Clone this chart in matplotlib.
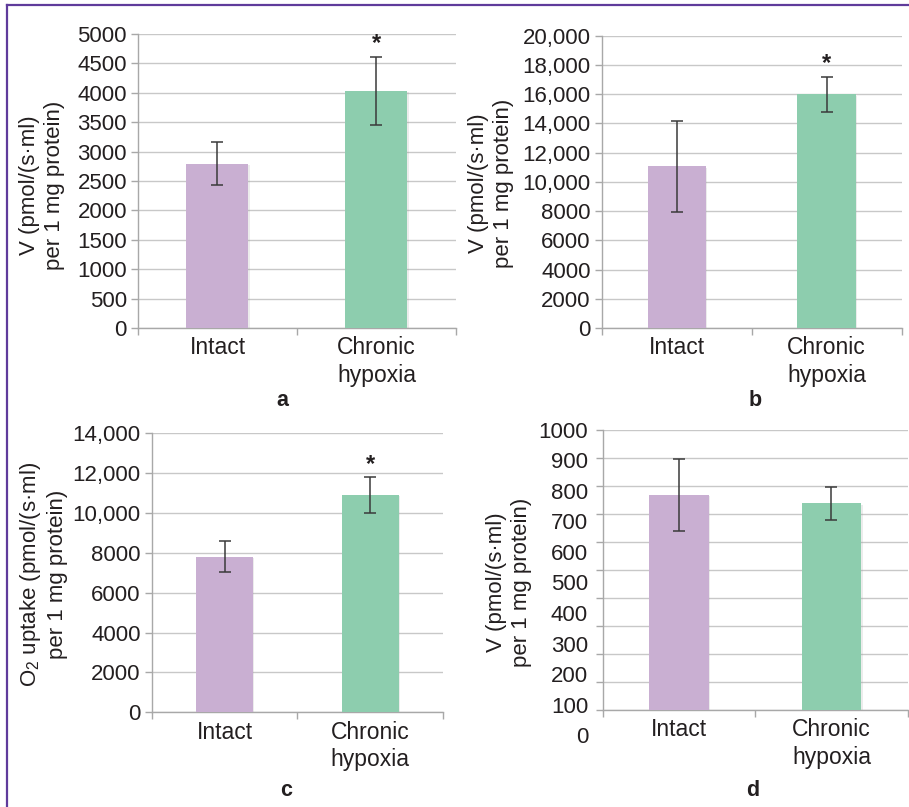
import matplotlib
matplotlib.use('Agg')
import matplotlib.pyplot as plt
from matplotlib import patheffects
from matplotlib.lines import Line2D

plt.rcParams['font.family'] = ['Liberation Sans', 'DejaVu Sans']
plt.rcParams['mathtext.fontset'] = 'custom'
plt.rcParams['mathtext.rm'] = 'Liberation Sans'

groups = ['Intact', 'Chronic\nhypoxia']
bar_colors = ['#c9afd2', '#8dcdae']

# panel a
a_mean = [2790, 4035]
a_err = [365, 580]
a_ticks = [0, 500, 1000, 1500, 2000, 2500, 3000, 3500, 4000, 4500, 5000]
a_labels = ['0', '500', '1000', '1500', '2000', '2500', '3000', '3500', '4000', '4500', '5000']

# panel b
b_mean = [11050, 16000]
b_err = [3090, 1200]
b_ticks = [0, 2000, 4000, 6000, 8000, 10000, 12000, 14000, 16000, 18000, 20000]
b_labels = ['0', '2000', '4000', '6000', '8000', '10,000', '12,000', '14,000',
            '16,000', '18,000', '20,000']

# panel c
c_mean = [7810, 10900]
c_err = [770, 895]
c_ticks = [0, 2000, 4000, 6000, 8000, 10000, 12000, 14000]
c_labels = ['0', '2000', '4000', '6000', '8000', '10,000', '12,000', '14,000']

# panel d (labels in the original are spread wider than the grid)
d_mean = [768, 738]
d_err = [130, 59]
d_ticks = [0, 100, 200, 300, 400, 500, 600, 700, 800, 900, 1000]
d_labels = ['0', '100', '200', '300', '400', '500', '600', '700', '800', '900', '1000']

stars = [False, True]

txt = '#231f20'
fs = 16

fig = plt.figure(figsize=(9.09, 8.07), dpi=100)


def panel(rect, means, errs, ticks, labels, star=True, show_labels=True):
    ax = fig.add_axes(rect)
    x = [0, 1]
    bars = ax.bar(x, means, width=0.39, color=bar_colors, zorder=3)
    for b in bars:
        b.set_path_effects([patheffects.SimplePatchShadow(offset=(1, -1), shadow_rgbFace='#999999', alpha=0.18),
                            patheffects.Normal()])
    ax.errorbar(x, means, yerr=errs, fmt='none', ecolor='#3a3a3a', elinewidth=1.1,
                capsize=4, capthick=1.1, zorder=4)
    if star:
        for xi, m, e, s in zip(x, means, errs, stars):
            if s:
                ax.annotate('*', xy=(xi, m + e), xytext=(0, 1), textcoords='offset points',
                            ha='center', va='bottom', fontsize=17, fontweight='bold', color=txt)
    ax.set_xlim(-0.5, 1.5)
    ax.set_ylim(ticks[0], ticks[-1])
    ax.set_yticks(ticks)
    if show_labels:
        ax.set_yticklabels(labels)
    else:
        ax.set_yticklabels([])
    ax.yaxis.grid(True, color='#c8c8c8', lw=1.0, zorder=0)
    ax.set_axisbelow(True)
    for s in ['top', 'right']:
        ax.spines[s].set_visible(False)
    for s in ['left', 'bottom']:
        ax.spines[s].set_color('#a8a8a8')
        ax.spines[s].set_linewidth(1.0)
    ax.tick_params(axis='y', length=5, width=1, color='#a8a8a8', pad=3,
                   labelsize=fs, labelcolor=txt)
    ax.set_xticks([-0.5, 0.5, 1.5])
    ax.set_xticklabels([])
    ax.tick_params(axis='x', which='major', length=5, width=1, color='#a8a8a8')
    ax.set_xticks(x, minor=True)
    ax.set_xticklabels(groups, minor=True, fontsize=16.5, color=txt, linespacing=1.25)
    ax.tick_params(axis='x', which='minor', length=0, pad=6)
    return ax


ax_a = panel([0.1518, 0.5936, 0.3498, 0.3643], a_mean, a_err, a_ticks, a_labels)
ax_b = panel([0.662, 0.5936, 0.330, 0.3622], b_mean, b_err, b_ticks, b_labels)
ax_c = panel([0.1672, 0.1174, 0.3201, 0.3457], c_mean, c_err, c_ticks, c_labels)
ax_d = panel([0.663, 0.1202, 0.3355, 0.347], d_mean, d_err, d_ticks, d_labels,
             star=False, show_labels=False)

# separate, taller axis holding the d tick labels, as in the original figure
ax_dl = fig.add_axes([0.663, 0.0892, 0.3355, 0.378])
ax_dl.set_ylim(d_ticks[0], d_ticks[-1])
ax_dl.set_yticks(d_ticks)
ax_dl.set_yticklabels(d_labels)
ax_dl.tick_params(axis='y', length=0, pad=10.5, labelsize=fs, labelcolor=txt)
ax_dl.set_xticks([])
ax_dl.patch.set_visible(False)
for s in ax_dl.spines.values():
    s.set_visible(False)

ylab = 'V (pmol/(s·ml)\nper 1 mg protein)'
ylab_c = r'$\mathregular{O_2}$ uptake (pmol/(s·ml)' + '\nper 1 mg protein)'
for xp, yp, t in [(42, 185, ylab), (491, 183, ylab), (43, 574, ylab_c), (509, 582, ylab)]:
    fig.text(xp / 909, 1 - yp / 807, t, rotation=90, ha='center', va='center',
             multialignment='center', fontsize=fs, color=txt, linespacing=1.3)

for xp, yp, t in [(282, 400, 'a'), (755, 400, 'b'), (286, 790, 'c'), (753, 790, 'd')]:
    fig.text(xp / 909, 1 - yp / 807, t, ha='center', va='center', fontsize=15.5,
             fontweight='bold', color=txt)

# purple frame on the left and top
fig.add_artist(Line2D([7 / 909, 7 / 909], [0, 1 - 5 / 807], color='#5f3b9b', lw=1.6,
                      transform=fig.transFigure))
fig.add_artist(Line2D([7 / 909, 1], [1 - 5 / 807, 1 - 5 / 807], color='#5f3b9b', lw=1.6,
                      transform=fig.transFigure))

fig.savefig('out.png', dpi=100)
